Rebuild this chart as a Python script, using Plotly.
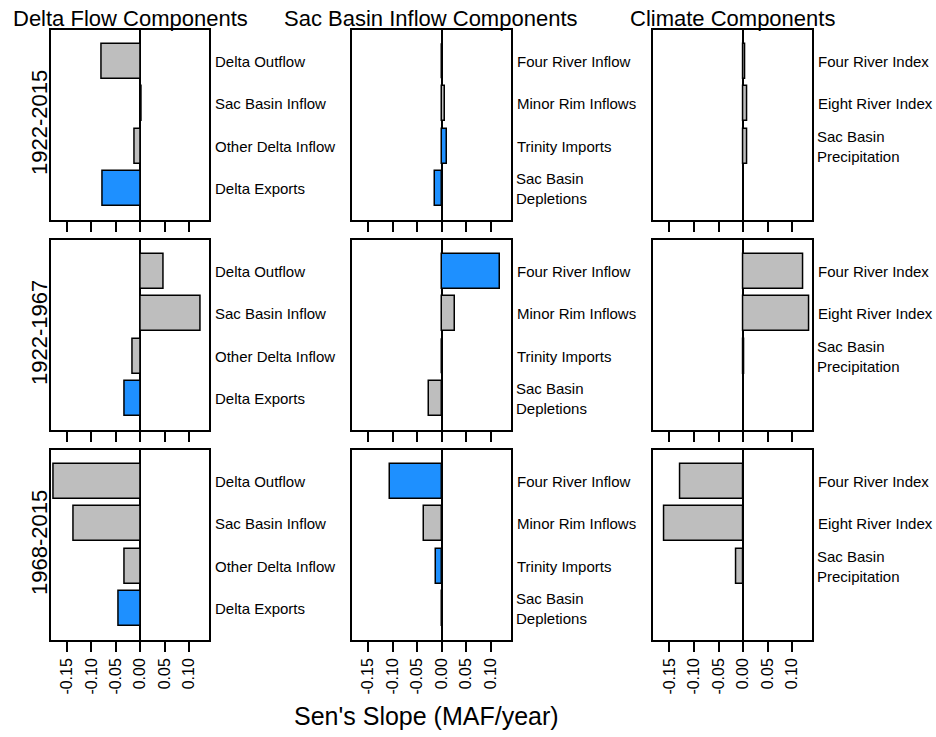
import plotly.graph_objects as go

# Sen's slope trends (MAF/year) by component group and period
periods = ["1922-2015", "1922-1967", "1968-2015"]
group_titles = ["Delta Flow Components", "Sac Basin Inflow Components", "Climate Components"]

delta_labels = ["Delta Outflow", "Sac Basin Inflow", "Other Delta Inflow", "Delta Exports"]
sac_labels = ["Four River Inflow", "Minor Rim Inflows", "Trinity Imports", "Sac Basin<br>Depletions"]
climate_labels = ["Four River Index", "Eight River Index", "Sac Basin<br>Precipitation"]

delta_1922_2015 = [-0.078, 0.002, -0.012, -0.076]
delta_1922_1967 = [0.047, 0.123, -0.015, -0.031]
delta_1968_2015 = [-0.176, -0.137, -0.032, -0.045]

sac_1922_2015 = [0.0, 0.007, 0.011, -0.014]
sac_1922_1967 = [0.120, 0.028, 0.0, -0.025]
sac_1968_2015 = [-0.106, -0.035, -0.012, 0.003]

climate_1922_2015 = [0.004, 0.008, 0.008]
climate_1922_1967 = [0.122, 0.135, 0.002]
climate_1968_2015 = [-0.128, -0.160, -0.014]

# True = highlighted (blue) component
delta_sig = [[False, False, False, True], [False, False, False, True], [False, False, False, True]]
sac_sig = [[False, False, True, True], [True, False, False, False], [True, False, True, False]]
climate_sig = [[False, False, False], [False, False, False], [False, False, False]]

tick_vals = [-0.15, -0.10, -0.05, 0.00, 0.05, 0.10]
tick_text = ["-0.15", "-0.10", "-0.05", "0.00", "0.05", "0.10"]
x_title = "Sen's Slope (MAF/year)"

GREY = "#BEBEBE"
BLUE = "#1E90FF"
FONT = "Liberation Sans, Arial, sans-serif"
W, H = 936, 737

columns = [
    (delta_labels, [delta_1922_2015, delta_1922_1967, delta_1968_2015], delta_sig),
    (sac_labels, [sac_1922_2015, sac_1922_1967, sac_1968_2015], sac_sig),
    (climate_labels, [climate_1922_2015, climate_1922_1967, climate_1968_2015], climate_sig),
]

# panel placement in pixels
col_x = [(50.7, 209.3), (352.0, 510.7), (653.3, 812.3)]
row_y = [(30.0, 220.0), (240.0, 430.0), (450.0, 640.0)]
x_range = [-0.183, 0.141]
y_range = [3.747, -0.745]

fig = go.Figure()
layout = {}
annotations = []

n = 0
for r in range(3):
    for c in range(3):
        n += 1
        labels, series, sig = columns[c]
        vals = series[r]
        colors = [BLUE if s else GREY for s in sig[r]]
        xa = "x" if n == 1 else f"x{n}"
        ya = "y" if n == 1 else f"y{n}"
        fig.add_trace(go.Bar(
            x=vals, y=list(range(len(vals))), orientation="h",
            width=0.83,
            marker=dict(color=colors, line=dict(color="black", width=1.5)),
            xaxis=xa, yaxis=ya, showlegend=False, hoverinfo="x",
        ))
        x0, x1 = col_x[c]
        y0, y1 = row_y[r]
        layout["xaxis" if n == 1 else f"xaxis{n}"] = dict(
            domain=[x0 / W, x1 / W], anchor=ya, range=x_range,
            showgrid=False, zeroline=True, zerolinecolor="black", zerolinewidth=1.5,
            showline=True, linecolor="black", linewidth=1.5, mirror=True,
            ticks="outside", ticklen=10, tickwidth=1.5, tickcolor="black",
            tickvals=tick_vals, ticktext=tick_text, tickangle=-90,
            showticklabels=(r == 2),
            tickfont=dict(family=FONT, size=16, color="black"),
        )
        layout["yaxis" if n == 1 else f"yaxis{n}"] = dict(
            domain=[1 - y1 / H, 1 - y0 / H], anchor=xa, range=y_range,
            showgrid=False, zeroline=False, showticklabels=False, ticks="",
            showline=True, linecolor="black", linewidth=1.5, mirror=True,
        )
        for i, lab in enumerate(labels):
            two_line = "<br>" in lab
            annotations.append(dict(
                text=lab, xref=f"{xa} domain", x=1, xanchor="left",
                xshift=3 if two_line else 4,
                yref=ya, y=i, yanchor="middle", align="left", showarrow=False,
                font=dict(family=FONT, size=15, color="black"),
            ))

# column titles
for c, title in enumerate(group_titles):
    x0, x1 = col_x[c]
    annotations.append(dict(
        text=title, xref="paper", yref="paper", x=(x0 + x1) / 2 / W, y=1 - 19 / H,
        xanchor="center", yanchor="middle", showarrow=False,
        font=dict(family=FONT, size=22, color="black"),
    ))

# period labels
for r, p in enumerate(periods):
    y0, y1 = row_y[r]
    annotations.append(dict(
        text=p, xref="paper", yref="paper", x=39 / W, y=1 - ((y0 + y1) / 2 - 2) / H,
        xanchor="center", yanchor="middle", textangle=-90, showarrow=False,
        font=dict(family=FONT, size=22, color="black"),
    ))

# shared x-axis title
annotations.append(dict(
    text=x_title, xref="paper", yref="paper", x=426.5 / W, y=1 - 716 / H,
    xanchor="center", yanchor="middle", showarrow=False,
    font=dict(family=FONT, size=25, color="black"),
))

fig.update_layout(
    **layout,
    annotations=annotations,
    width=W, height=H,
    margin=dict(l=0, r=0, t=0, b=0),
    paper_bgcolor="white", plot_bgcolor="white",
    bargap=0,
)

fig.write_html("out.html")
